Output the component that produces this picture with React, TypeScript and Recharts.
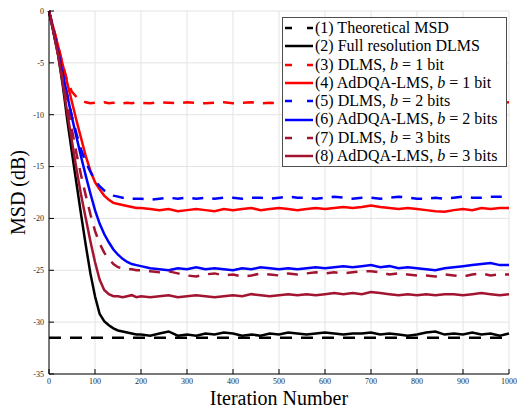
import React from 'react'
import {
  LineChart,
  Line,
  XAxis,
  YAxis,
  CartesianGrid,
  ReferenceLine,
  Legend,
} from 'recharts'

// iteration index of every sample (finer during the transient)
const ITERATIONS = [
  0, 10, 20, 30, 40, 50, 60, 70, 80, 90, 100, 110, 120, 130, 140, 150, 160, 170, 180, 190, 200,
  220, 240, 260, 280, 300, 320, 340, 360, 380, 400, 420, 440, 460, 480, 500, 520, 540, 560, 580,
  600, 620, 640, 660, 680, 700, 720, 740, 760, 780, 800, 820, 840, 860, 880, 900, 920, 940, 960,
  980, 1000,
]

const THEORETICAL_MSD = -31.5

const FULL_DLMS = [
  0, -2.1, -4.3, -7.2, -10.6, -13.7, -16.7, -19.7, -22.6, -25.3, -27.5, -29.2, -29.9, -30.3, -30.6,
  -30.8, -30.9, -31.0, -31.1, -31.2, -31.2,
  -31.3, -31.1, -30.9, -31.3, -31.2, -31.3, -31.1, -31.2, -31.0, -31.1, -31.3, -31.2, -31.3, -31.1,
  -31.2, -31.0, -31.1, -31.2, -31.1, -31.0, -31.1, -31.2, -31.1, -31.1, -31.0, -31.2, -31.1, -31.2,
  -31.3, -31.2, -31.0, -30.9, -31.2, -31.1, -31.2, -31.0, -31.2, -31.1, -31.3, -31.1,
]

const DLMS_B1 = [
  0, -1.7, -3.4, -5.2, -6.8, -7.8, -8.3, -8.6, -8.8, -8.9, -8.85, -8.9, -8.8, -8.9, -8.85, -8.8,
  -8.9, -8.85, -8.9, -8.8, -8.85,
  -8.9, -8.8, -8.85, -8.9, -8.8, -8.85, -8.9, -8.85, -8.8, -8.9, -8.85, -8.8, -8.9, -8.85, -8.9,
  -8.8, -8.85, -8.9, -8.8, -8.85, -8.9, -8.85, -8.8, -8.9, -8.85, -8.8, -8.9, -8.85, -8.9, -8.8,
  -8.85, -8.9, -8.8, -8.85, -8.9, -8.85, -8.8, -8.9, -8.85, -8.8,
]

const ADDQA_B1 = [
  0, -1.7, -3.4, -5.2, -7.0, -8.8, -10.6, -12.3, -14.0, -15.4, -16.5, -17.2, -17.8, -18.2, -18.5,
  -18.6, -18.7, -18.8, -18.9, -19.0, -19.0,
  -19.1, -19.2, -19.1, -19.3, -19.2, -19.1, -19.2, -19.3, -19.1, -19.2, -19.1, -19.0, -19.2, -19.1,
  -19.0, -19.1, -19.2, -19.1, -19.0, -19.1, -19.0, -18.9, -19.0, -18.9, -18.75, -18.9, -19.0, -19.1,
  -19.0, -19.1, -19.2, -19.3, -19.35, -19.2, -19.1, -19.2, -19.0, -19.1, -19.0, -19.0,
]

const DLMS_B2 = [
  0, -2.0, -4.0, -6.1, -8.2, -10.2, -11.9, -13.4, -14.6, -15.5, -16.3, -16.9, -17.3, -17.6, -17.8,
  -17.9, -18.0, -18.0, -18.1, -18.1, -18.1,
  -18.2, -18.1, -18.0, -18.1, -18.0, -18.1, -18.0, -18.1, -18.0, -18.0, -18.1, -18.0, -18.0, -18.1,
  -18.0, -17.9, -18.0, -18.0, -18.1, -18.0, -17.9, -18.0, -18.1, -18.0, -18.0, -18.1, -18.0, -17.9,
  -18.0, -18.1, -18.1, -18.0, -18.1, -18.0, -17.9, -18.0, -18.0, -17.9, -17.9, -17.9,
]

const ADDQA_B2 = [
  0, -2.0, -4.0, -6.1, -8.2, -10.3, -12.2, -14.1, -15.9, -17.6, -19.2, -20.5, -21.5, -22.3, -23.0,
  -23.5, -23.9, -24.2, -24.4, -24.5, -24.6,
  -24.8, -24.9, -25.0, -24.8, -24.9, -24.7, -24.9, -24.8, -24.9, -25.0, -24.8, -24.9, -24.7, -24.8,
  -24.9, -24.8, -24.9, -24.8, -24.7, -24.8, -24.7, -24.6, -24.7, -24.6, -24.5, -24.7, -24.6, -24.8,
  -24.7, -24.8, -24.9, -25.0, -24.8, -24.7, -24.6, -24.5, -24.4, -24.3, -24.5, -24.5,
]

const DLMS_B3 = [
  0, -2.1, -4.2, -6.6, -9.1, -11.5, -13.8, -15.9, -17.8, -19.6, -21.2, -22.4, -23.3, -23.9, -24.4,
  -24.7, -24.8, -24.9, -24.9, -25.0, -25.0,
  -25.1, -25.2, -25.1, -25.3, -25.5, -25.6, -25.4, -25.3, -25.5, -25.4, -25.6, -25.5, -25.3, -25.4,
  -25.5, -25.3, -25.4, -25.3, -25.2, -25.3, -25.2, -25.3, -25.2, -25.1, -25.1, -25.2, -25.4, -25.3,
  -25.4, -25.5, -25.5, -25.6, -25.4, -25.5, -25.6, -25.4, -25.3, -25.5, -25.4, -25.4,
]

const ADDQA_B3 = [
  0, -2.1, -4.3, -7.0, -9.9, -12.6, -15.3, -17.8, -20.0, -22.2, -24.2, -25.9, -26.9, -27.3, -27.5,
  -27.5, -27.6, -27.5, -27.4, -27.6, -27.5,
  -27.6, -27.5, -27.4, -27.6, -27.5, -27.4, -27.5, -27.6, -27.5, -27.4, -27.5, -27.3, -27.4, -27.5,
  -27.4, -27.3, -27.4, -27.3, -27.4, -27.3, -27.2, -27.3, -27.2, -27.3, -27.1, -27.2, -27.3, -27.4,
  -27.3, -27.4, -27.3, -27.4, -27.3, -27.3, -27.4, -27.3, -27.2, -27.3, -27.4, -27.3,
]

const X_TICKS = [0, 100, 200, 300, 400, 500, 600, 700, 800, 900, 1000]
const Y_TICKS = [-35, -30, -25, -20, -15, -10, -5, 0]

const DARK_RED = '#a2142f'
const SERIF = '"Liberation Serif", "DejaVu Serif", serif'

const SERIES = [
  { key: 'full', values: FULL_DLMS, color: '#000000', dashed: false },
  { key: 'dlms1', values: DLMS_B1, color: '#ff0000', dashed: true },
  { key: 'addqa1', values: ADDQA_B1, color: '#ff0000', dashed: false },
  { key: 'dlms2', values: DLMS_B2, color: '#0000ff', dashed: true },
  { key: 'addqa2', values: ADDQA_B2, color: '#0000ff', dashed: false },
  { key: 'dlms3', values: DLMS_B3, color: DARK_RED, dashed: true },
  { key: 'addqa3', values: ADDQA_B3, color: DARK_RED, dashed: false },
]

// legend rows: label, then the text after the italic b (if any)
const LEGEND_ITEMS = [
  { label: '(1) Theoretical MSD', bits: null, color: '#000000', dashed: true },
  { label: '(2) Full resolution DLMS', bits: null, color: '#000000', dashed: false },
  { label: '(3) DLMS, ', bits: ' = 1 bit', color: '#ff0000', dashed: true },
  { label: '(4) AdDQA-LMS, ', bits: ' = 1 bit', color: '#ff0000', dashed: false },
  { label: '(5) DLMS, ', bits: ' = 2 bits', color: '#0000ff', dashed: true },
  { label: '(6) AdDQA-LMS, ', bits: ' = 2 bits', color: '#0000ff', dashed: false },
  { label: '(7) DLMS, ', bits: ' = 3 bits', color: DARK_RED, dashed: true },
  { label: '(8) AdDQA-LMS, ', bits: ' = 3 bits', color: DARK_RED, dashed: false },
]

const chartData = ITERATIONS.map((iter, i) => {
  const row: Record<string, number> = { iter }
  SERIES.forEach((s) => {
    row[s.key] = s.values[i]
  })
  return row
})

const tickStyle = { fontSize: 8, fill: '#262626', fontFamily: SERIF }

function MsdLegend() {
  return (
    <div
      style={{
        boxSizing: 'border-box',
        width: 225,
        height: 150,
        border: '1px solid #4d4d4d',
        background: '#fff',
        padding: '1px 2px',
        fontFamily: SERIF,
        fontSize: 16,
        color: '#000',
        lineHeight: '18.3px',
      }}
    >
      {LEGEND_ITEMS.map((item) => (
        <div key={item.label} style={{ display: 'flex', alignItems: 'center', height: 18.3, whiteSpace: 'nowrap' }}>
          <svg width={30} height={6} style={{ flexShrink: 0 }}>
            <line
              x1={0}
              y1={3}
              x2={28}
              y2={3}
              stroke={item.color}
              strokeWidth={2.5}
              strokeDasharray={item.dashed ? '7 15 6' : undefined}
            />
          </svg>
          <span>
            {item.label}
            {item.bits && (
              <>
                <i>b</i>
                {item.bits}
              </>
            )}
          </span>
        </div>
      ))}
    </div>
  )
}

export default function App() {
  return (
    <div
      style={{
        position: 'absolute',
        left: 0,
        top: 0,
        width: 517,
        height: 408,
        background: '#fff',
        fontFamily: SERIF,
      }}
    >
      <LineChart
        width={517}
        height={408}
        data={chartData}
        margin={{ top: 11, right: 8, bottom: 0, left: 0 }}
      >
        <CartesianGrid stroke="#e3e3e3" strokeWidth={1} />
        <XAxis
          dataKey="iter"
          type="number"
          domain={[0, 1000]}
          ticks={X_TICKS}
          height={34}
          stroke="#000"
          tickSize={-5}
          tickMargin={9}
          tick={tickStyle}
          tickLine={{ stroke: '#000' }}
          label={{
            value: 'Iteration Number',
            position: 'insideBottom',
            offset: 3,
            style: { fontSize: 20, fill: '#000', fontFamily: SERIF },
          }}
        />
        <XAxis
          xAxisId="top"
          orientation="top"
          dataKey="iter"
          type="number"
          domain={[0, 1000]}
          ticks={X_TICKS}
          height={0}
          stroke="#000"
          tickSize={-5}
          tickFormatter={() => ''}
          tickLine={{ stroke: '#000' }}
        />
        <YAxis
          type="number"
          domain={[-35, 0]}
          ticks={Y_TICKS}
          width={49}
          stroke="#000"
          tickSize={-5}
          tickMargin={10}
          tick={tickStyle}
          tickLine={{ stroke: '#000' }}
          label={{
            value: 'MSD (dB)',
            angle: -90,
            position: 'insideLeft',
            offset: 18,
            style: { fontSize: 20, fill: '#000', textAnchor: 'middle', fontFamily: SERIF },
          }}
        />
        <YAxis
          yAxisId="right"
          orientation="right"
          type="number"
          domain={[-35, 0]}
          ticks={Y_TICKS}
          width={0}
          stroke="#000"
          tickSize={-5}
          tickFormatter={() => ''}
          tickLine={{ stroke: '#000' }}
        />
        <ReferenceLine
          y={THEORETICAL_MSD}
          stroke="#000"
          strokeWidth={2.5}
          strokeDasharray="12 9"
        />
        {SERIES.map((s) => (
          <Line
            key={s.key}
            dataKey={s.key}
            type="linear"
            stroke={s.color}
            strokeWidth={2.5}
            strokeDasharray={s.dashed ? '11 9' : undefined}
            dot={false}
            activeDot={false}
            isAnimationActive={false}
          />
        ))}
        <Legend
          layout="vertical"
          align="center"
          verticalAlign="middle"
          content={<MsdLegend />}
          wrapperStyle={{ position: 'absolute', left: 282, top: 17, width: 225, height: 150 }}
        />
      </LineChart>
    </div>
  )
}
